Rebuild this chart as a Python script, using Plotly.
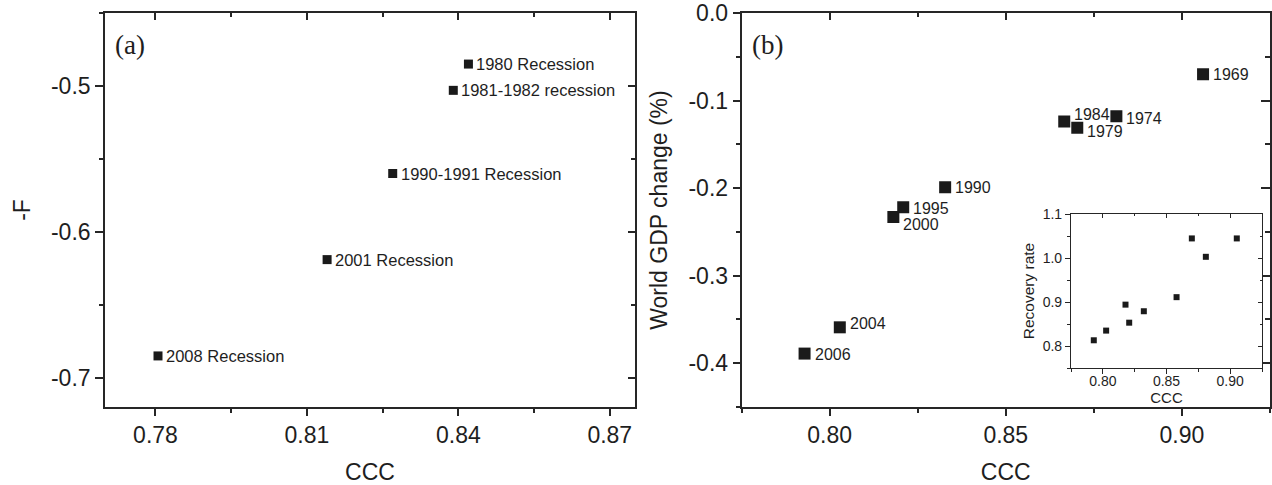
import plotly.graph_objects as go

# ---------------- data ----------------
# panel (a)
a_labels = ["1980 Recession", "1981-1982 recession", "1990-1991 Recession",
            "2001 Recession", "2008 Recession"]
a_ccc = [0.842, 0.839, 0.827, 0.814, 0.7805]
a_negF = [-0.485, -0.503, -0.560, -0.619, -0.685]

a_xticks = [0.78, 0.81, 0.84, 0.87]
a_xticktext = ["0.78", "0.81", "0.84", "0.87"]
a_xminor = [0.795, 0.825, 0.855]
a_yticks = [-0.7, -0.6, -0.5]
a_yticktext = ["-0.7", "-0.6", "-0.5"]
a_yminor = [-0.65, -0.55, -0.45]

# panel (b)
b_years = ["1969", "1984", "1974", "1979", "1990", "1995", "2000", "2004", "2006"]
b_ccc = [0.906, 0.8666, 0.8814, 0.8703, 0.8328, 0.8209, 0.8181, 0.8029, 0.7929]
b_gdp = [-0.070, -0.124, -0.118, -0.131, -0.199, -0.222, -0.233, -0.359, -0.389]

b_xticks = [0.80, 0.85, 0.90]
b_xticktext = ["0.80", "0.85", "0.90"]
b_xminor = [0.775, 0.825, 0.875, 0.925]
b_yticks = [-0.4, -0.3, -0.2, -0.1, 0.0]
b_yticktext = ["-0.4", "-0.3", "-0.2", "-0.1", "0.0"]
b_yminor = [-0.45, -0.35, -0.25, -0.15, -0.05]

# inset of (b)
in_ccc = [0.7929, 0.8026, 0.8178, 0.8207, 0.8322, 0.8579, 0.8699, 0.8809, 0.9052]
in_recovery = [0.813, 0.835, 0.894, 0.853, 0.879, 0.911, 1.0445, 1.0027, 1.0445]
in_xticks = [0.80, 0.85, 0.90]
in_xticktext = ["0.80", "0.85", "0.90"]
in_xminor = [0.775, 0.825, 0.875, 0.925]
in_yticks = [0.8, 0.9, 1.0, 1.1]
in_yticktext = ["0.8", "0.9", "1.0", "1.1"]
in_yminor = [0.75, 0.85, 0.95, 1.05]

# ---------------- style ----------------
W, H = 1272, 485
FONT = "Liberation Sans"
SERIF = "Liberation Serif"
LC = "#262626"
TC = "#1e1e1e"
MC = "#1a1a1a"
LW = 1.6

# label vertical nudges for panel (b) (pixels, up positive)
b_label_dy = [0, 7, -2, -4, 0, -1, -7, 4, -1]


def px_dom(a, b, total):
    return [a / total, b / total]


def ydom(top, bottom):
    return [1 - bottom / H, 1 - top / H]


A_X = px_dom(105, 635, W)
B_X = px_dom(741.5, 1270, W)
MAIN_Y = ydom(13, 407)
IN_X = px_dom(1071, 1262, W)
IN_Y = ydom(214, 368)


def primary(domain, rng, tv, tt, minor, anchor, size, tlen, mlen, lw, title=None,
            tsize=None, standoff=None, lstand=0):
    d = dict(domain=domain, range=rng, anchor=anchor, showline=True, linecolor=LC,
             linewidth=lw, mirror=True, showgrid=False, zeroline=False,
             automargin=False, ticklabelstandoff=lstand,
             ticks="outside", ticklen=tlen, tickwidth=lw, tickcolor=LC,
             tickmode="array", tickvals=tv, ticktext=tt,
             tickfont=dict(family=FONT, size=size, color=TC),
             minor=dict(tickmode="array", tickvals=minor, ticks="outside",
                        ticklen=mlen, tickwidth=lw, tickcolor=LC))
    if title is not None:
        d["title"] = dict(text=title, font=dict(family=FONT, size=tsize, color=TC),
                          standoff=standoff)
    return d


def overlay(over, side, anchor, rng, tv, minor, tlen, mlen, lw):
    return dict(overlaying=over, side=side, anchor=anchor, range=rng,
                showline=False, showgrid=False, zeroline=False, automargin=False,
                showticklabels=False, ticks="inside", ticklen=tlen,
                tickwidth=lw, tickcolor=LC, tickmode="array", tickvals=tv,
                minor=dict(tickmode="array", tickvals=minor, ticks="inside",
                           ticklen=mlen, tickwidth=lw, tickcolor=LC))


A_XR = [0.77, 0.875]
A_YR = [-0.72, -0.45]
B_XR = [0.775, 0.925]
B_YR = [-0.45, 0.0]
IN_XR = [0.775, 0.925]
IN_YR = [0.75, 1.1]

fig = go.Figure()

# panel (a)
fig.add_trace(go.Scatter(x=a_ccc, y=a_negF, mode="markers", xaxis="x", yaxis="y",
                         marker=dict(symbol="square", size=9, color=MC),
                         showlegend=False, hoverinfo="skip"))
fig.add_trace(go.Scatter(x=[None], y=[None], xaxis="x2", yaxis="y2", mode="markers",
                         showlegend=False, hoverinfo="skip"))
# panel (b)
fig.add_trace(go.Scatter(x=b_ccc, y=b_gdp, mode="markers", xaxis="x3", yaxis="y3",
                         marker=dict(symbol="square", size=12, color=MC),
                         showlegend=False, hoverinfo="skip"))
fig.add_trace(go.Scatter(x=[None], y=[None], xaxis="x4", yaxis="y4", mode="markers",
                         showlegend=False, hoverinfo="skip"))
# inset
fig.add_trace(go.Scatter(x=in_ccc, y=in_recovery, mode="markers", xaxis="x5", yaxis="y5",
                         marker=dict(symbol="square", size=6, color=MC),
                         showlegend=False, hoverinfo="skip"))
fig.add_trace(go.Scatter(x=[None], y=[None], xaxis="x6", yaxis="y6", mode="markers",
                         showlegend=False, hoverinfo="skip"))

annotations = []
for lab, x, y in zip(a_labels, a_ccc, a_negF):
    annotations.append(dict(text=lab, x=x, y=y, xref="x", yref="y", xanchor="left",
                            yanchor="middle", xshift=6, showarrow=False,
                            font=dict(family=FONT, size=16.5, color=TC)))
for lab, x, y, dy in zip(b_years, b_ccc, b_gdp, b_label_dy):
    annotations.append(dict(text=lab, x=x, y=y, xref="x3", yref="y3", xanchor="left",
                            yanchor="middle", xshift=8, yshift=dy, showarrow=False,
                            font=dict(family=FONT, size=16, color=TC)))
annotations.append(dict(text="(a)", x=113 / W, y=1 - 45 / H, xref="paper", yref="paper",
                        xanchor="left", yanchor="middle", showarrow=False,
                        font=dict(family=SERIF, size=27, color=TC)))
annotations.append(dict(text="(b)", x=750 / W, y=1 - 45 / H, xref="paper", yref="paper",
                        xanchor="left", yanchor="middle", showarrow=False,
                        font=dict(family=SERIF, size=27, color=TC)))

fig.update_layout(
    template="none",
    width=W, height=H, margin=dict(l=0, r=0, t=0, b=0, autoexpand=False),
    paper_bgcolor="white", plot_bgcolor="white", showlegend=False,
    xaxis=primary(A_X, A_XR, a_xticks, a_xticktext, a_xminor, "y", 23, 7, 4, LW,
                  "CCC", 23, 17),
    yaxis=primary(MAIN_Y, A_YR, a_yticks, a_yticktext, a_yminor, "x", 23, 8, 4, LW,
                  "-F", 23, 14),
    xaxis2=overlay("x", "top", "y2", A_XR, a_xticks, a_xminor, 7, 4, LW),
    yaxis2=overlay("y", "right", "x2", A_YR, a_yticks, a_yminor, 7, 4, LW),
    xaxis3=primary(B_X, B_XR, b_xticks, b_xticktext, b_xminor, "y3", 23, 7, 4, LW,
                   "CCC", 23, 17),
    yaxis3=primary(MAIN_Y, B_YR, b_yticks, b_yticktext, b_yminor, "x3", 23, 7, 4, LW,
                   "World GDP change (%)", 23, 14),
    xaxis4=overlay("x3", "top", "y4", B_XR, b_xticks, b_xminor, 7, 4, LW),
    yaxis4=overlay("y3", "right", "x4", B_YR, b_yticks, b_yminor, 9, 5, LW),
    xaxis5=primary(IN_X, IN_XR, in_xticks, in_xticktext, in_xminor, "y5", 14, 5, 3, 1.2,
                   "CCC", 15, 0, -5),
    yaxis5=primary(IN_Y, IN_YR, in_yticks, in_yticktext, in_yminor, "x5", 14, 5, 3, 1.2,
                   "Recovery rate", 15.5, 4),
    xaxis6=overlay("x5", "top", "y6", IN_XR, in_xticks, in_xminor, 4, 2, 1.2),
    yaxis6=overlay("y5", "right", "x6", IN_YR, in_yticks, in_yminor, 4, 2, 1.2),
    annotations=annotations,
)

fig.write_html("out.html", config={"displayModeBar": False},
               post_script="document.body.style.margin='0px';")
